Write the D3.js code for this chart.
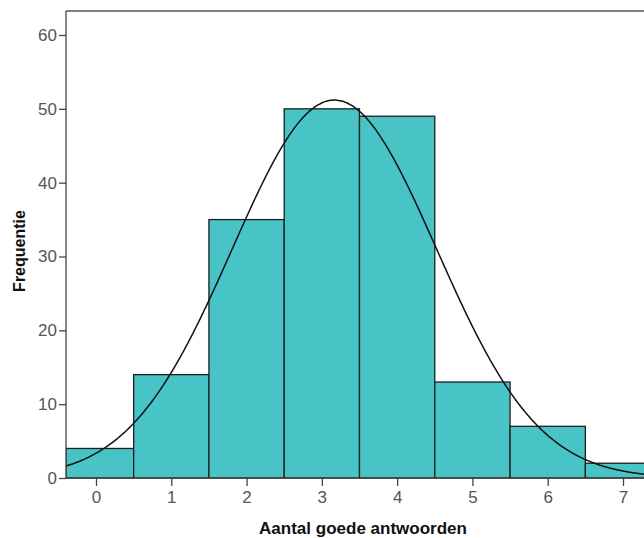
<!DOCTYPE html>
<html>
<head>
<meta charset="utf-8">
<script src="https://cdn.jsdelivr.net/npm/d3@7"></script>
<style>
  body { margin: 0; background: #fff; }
  svg { display: block; }
</style>
</head>
<body>
<svg id="chart" width="644" height="538"></svg>
<script>
// Data
const categories = [0, 1, 2, 3, 4, 5, 6, 7];
const frequencies = [4, 14, 35, 50, 49, 13, 7, 2];
const yTicks = [0, 10, 20, 30, 40, 50, 60];
const xTitle = "Aantal goede antwoorden";
const yTitle = "Frequentie";

(function () {
// Fitted normal curve (mean and sd derived from the frequency table)
const N = d3.sum(frequencies);
const mean = d3.sum(categories, (c, i) => c * frequencies[i]) / N;
const variance = d3.sum(categories, (c, i) => frequencies[i] * (c - mean) ** 2) / (N - 1);
const sd = Math.sqrt(variance);

const svg = d3.select("#chart");
const font = "'Liberation Sans', Arial, sans-serif";

const pLeft = 66, pTop = 11, pBottom = 478, pRight = 700;
const x = d3.scaleLinear().domain([0, 7]).range([96, 623]);
const y = d3.scaleLinear().domain([0, 60]).range([pBottom, 35]);
const xMin = x.invert(pLeft), xMax = x.invert(pRight);

svg.append("defs").append("clipPath").attr("id", "plot")
  .append("rect").attr("x", pLeft).attr("y", pTop).attr("width", pRight - pLeft).attr("height", pBottom - pTop + 1);

const g = svg.append("g").attr("clip-path", "url(#plot)");

// Bars
g.selectAll("rect.bar").data(categories).enter().append("rect")
  .attr("class", "bar")
  .attr("x", d => x(Math.max(d - 0.5, xMin)))
  .attr("width", d => x(d + 0.5) - x(Math.max(d - 0.5, xMin)))
  .attr("y", (d, i) => y(frequencies[i]))
  .attr("height", (d, i) => y(0) - y(frequencies[i]))
  .attr("fill", "#48C3C6")
  .attr("stroke", "#1e1e1e")
  .attr("stroke-width", 1.3);

// Normal curve
const curvePts = d3.range(0, 401).map(k => {
  const v = xMin + (xMax - xMin) * k / 400;
  const dens = N / (sd * Math.sqrt(2 * Math.PI)) * Math.exp(-0.5 * ((v - mean) / sd) ** 2);
  return [v, dens];
});
g.append("path")
  .datum(curvePts)
  .attr("fill", "none")
  .attr("stroke", "#111")
  .attr("stroke-width", 1.5)
  .attr("d", d3.line().x(d => x(d[0])).y(d => y(d[1])).curve(d3.curveBasis));

// Frame line on top
svg.append("line").attr("x1", pLeft).attr("x2", 644).attr("y1", pTop).attr("y2", pTop)
  .attr("stroke", "#555").attr("stroke-width", 1.3);

// Y axis
const yAxis = d3.axisLeft(y).tickValues(yTicks).tickFormat(d3.format("d"))
  .tickSize(7).tickPadding(2).tickSizeOuter(0);
const ya = svg.append("g").attr("transform", `translate(${pLeft},0)`).call(yAxis);
ya.select(".domain").attr("stroke", "#444").attr("stroke-width", 1.3)
  .attr("d", `M0,${pTop}V${pBottom}`);
ya.selectAll(".tick line").attr("stroke", "#444").attr("stroke-width", 1.3);
ya.selectAll(".tick text").attr("font-family", font).attr("font-size", 17).attr("fill", "#555");

// X axis
const xAxis = d3.axisBottom(x).tickValues(categories).tickFormat(d3.format("d"))
  .tickSize(8).tickPadding(5).tickSizeOuter(0);
const xa = svg.append("g").attr("transform", `translate(0,${pBottom})`).call(xAxis);
xa.select(".domain").attr("stroke", "#444").attr("stroke-width", 1.3)
  .attr("d", `M${pLeft},0H644`);
xa.selectAll(".tick line").attr("stroke", "#444").attr("stroke-width", 1.3);
xa.selectAll(".tick text").attr("font-family", font).attr("font-size", 17).attr("fill", "#555");

// Titles
svg.append("text")
  .attr("x", 363).attr("y", 534)
  .attr("text-anchor", "middle")
  .attr("font-family", font).attr("font-size", 17).attr("font-weight", "bold").attr("fill", "#111")
  .text(xTitle);

svg.append("text")
  .attr("transform", "translate(25,251) rotate(-90)")
  .attr("text-anchor", "middle")
  .attr("font-family", font).attr("font-size", 16).attr("font-weight", "bold").attr("fill", "#111")
  .text(yTitle);
})();
</script>
</body>
</html>
